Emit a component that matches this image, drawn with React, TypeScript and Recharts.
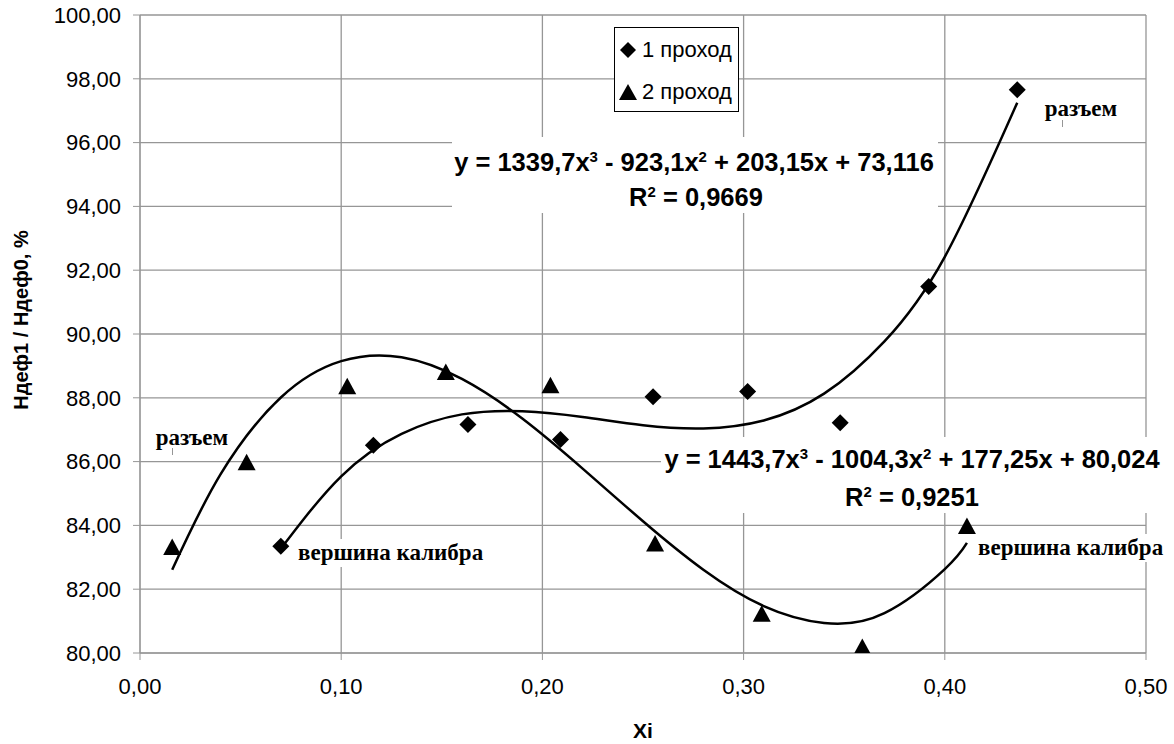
import React from 'react';
import { ComposedChart, XAxis, YAxis, CartesianGrid, Line, Scatter } from 'recharts';

// measured markers
const pass1X = [0.070, 0.116, 0.163, 0.209, 0.255, 0.302, 0.348, 0.392, 0.436];
const pass1Y = [83.35, 86.51, 87.16, 86.69, 88.03, 88.20, 87.22, 91.49, 97.66];
const pass2X = [0.016, 0.053, 0.103, 0.152, 0.204, 0.256, 0.309, 0.359, 0.411];
const pass2Y = [83.32, 85.98, 88.36, 88.81, 88.39, 83.43, 81.23, 80.19, 83.98];

// trend curves
const trend1X = [0.07, 0.10, 0.13, 0.16, 0.19, 0.22, 0.25, 0.28, 0.31, 0.34, 0.37, 0.40, 0.436];
const trend1Y = [83.27, 85.54, 86.87, 87.48, 87.58, 87.40, 87.14, 87.04, 87.29, 88.13, 89.77, 92.42, 97.25];
const trend2X = [0.016, 0.04, 0.07, 0.10, 0.13, 0.16, 0.19, 0.22, 0.25, 0.28, 0.31, 0.34, 0.37, 0.40, 0.411];
const trend2Y = [82.61, 85.60, 88.01, 89.15, 89.27, 88.59, 87.35, 85.78, 84.13, 82.61, 81.47, 80.94, 81.25, 82.63, 83.45];

const xTicks = [0, 0.1, 0.2, 0.3, 0.4, 0.5];
const yTicks = [80, 82, 84, 86, 88, 90, 92, 94, 96, 98, 100];

const seriesNames = ['1 проход', '2 проход'];
const eq1 = ['y = 1339,7x', '3', ' - 923,1x', '2', ' + 203,15x + 73,116'];
const eq2 = ['y = 1443,7x', '3', ' - 1004,3x', '2', ' + 177,25x + 80,024'];
const r2 = ['0,9669', '0,9251'];
const annTop = 'разъем';
const annBottom = 'вершина калибра';

const zip = (xs: number[], ys: number[]) => xs.map((x, i) => ({ x, y: ys[i] }));
const pass1 = zip(pass1X, pass1Y);
const pass2 = zip(pass2X, pass2Y);
const trend1 = zip(trend1X, trend1Y);
const trend2 = zip(trend2X, trend2Y);

const fmt = (v: number) => v.toFixed(2).replace('.', ',');
const GRID = '#969696';
const SANS = '"Liberation Sans", Arial, sans-serif';
const SERIF = '"Liberation Serif", "Times New Roman", serif';

const Diamond = (props: any) => {
  const { cx, cy } = props;
  const h = 8.5;
  return <polygon points={`${cx},${cy - h} ${cx + h},${cy} ${cx},${cy + h} ${cx - h},${cy}`} fill="#000" />;
};
const Triangle = (props: any) => {
  const { cx, cy } = props;
  return <polygon points={`${cx},${cy - 8.5} ${cx + 9},${cy + 8} ${cx - 9},${cy + 8}`} fill="#000" />;
};

const Sup = ({ children }: any) => (
  <sup style={{ fontSize: '15px', lineHeight: 0, verticalAlign: '0.6em' }}>{children}</sup>
);

const Eq = ({ parts }: { parts: string[] }) => (
  <span>
    {parts[0]}
    <Sup>{parts[1]}</Sup>
    {parts[2]}
    <Sup>{parts[3]}</Sup>
    {parts[4]}
  </span>
);

const abs = (left: number, top: number, extra: React.CSSProperties = {}): React.CSSProperties => ({
  position: 'absolute',
  left,
  top,
  whiteSpace: 'nowrap',
  ...extra,
});

const center = (cx: number, cy: number, extra: React.CSSProperties = {}): React.CSSProperties => ({
  position: 'absolute',
  left: cx,
  top: cy,
  transform: 'translate(-50%, -50%)',
  whiteSpace: 'nowrap',
  lineHeight: 1,
  ...extra,
});

export default function App() {
  return (
    <div style={{ position: 'absolute', left: 0, top: 0, width: 1174, height: 744, background: '#fff', fontFamily: SANS }}>
      <ComposedChart width={1174} height={744} margin={{ top: 15, right: 28, left: 0, bottom: 0 }}>
        <CartesianGrid stroke={GRID} strokeWidth={1.3} />
        <XAxis
          type="number"
          dataKey="x"
          domain={[0, 0.5]}
          ticks={xTicks}
          tickFormatter={fmt}
          height={91}
          tickSize={7}
          tickMargin={18}
          stroke={GRID}
          tick={{ fill: '#000', fontSize: 22, fontFamily: SANS }}
          allowDataOverflow
        />
        <YAxis
          type="number"
          dataKey="y"
          domain={[80, 100]}
          ticks={yTicks}
          tickFormatter={fmt}
          width={140}
          tickSize={7}
          tickMargin={12}
          stroke={GRID}
          tick={{ fill: '#000', fontSize: 22, fontFamily: SANS }}
          allowDataOverflow
        />
        <Line data={trend1} dataKey="y" type="natural" stroke="#000" strokeWidth={2.5} dot={false} isAnimationActive={false} />
        <Line data={trend2} dataKey="y" type="natural" stroke="#000" strokeWidth={2.5} dot={false} isAnimationActive={false} />
        <Scatter name={seriesNames[0]} data={pass1} dataKey="y" shape={Diamond} isAnimationActive={false} />
        <Scatter name={seriesNames[1]} data={pass2} dataKey="y" shape={Triangle} isAnimationActive={false} />
      </ComposedChart>

      {/* legend */}
      <div style={abs(614, 27, { width: 125, height: 85, border: '1px solid #000', background: '#fff', boxSizing: 'border-box' })}>
        <svg width={20} height={20} style={{ position: 'absolute', left: 3, top: 12 }}>
          <polygon points="10,2 18,10 10,18 2,10" fill="#000" />
        </svg>
        <div style={{ position: 'absolute', left: 27, top: 11, fontSize: 22, lineHeight: '22px' }}>{seriesNames[0]}</div>
        <svg width={20} height={20} style={{ position: 'absolute', left: 3, top: 54 }}>
          <polygon points="10,2 19,18 1,18" fill="#000" />
        </svg>
        <div style={{ position: 'absolute', left: 27, top: 53, fontSize: 22, lineHeight: '22px' }}>{seriesNames[1]}</div>
      </div>

      {/* equation 1 */}
      <div style={abs(452, 137, { width: 486, height: 76, background: '#fff' })} />
      <div style={center(694, 163, { fontSize: 25.5, fontWeight: 'bold' })}><Eq parts={eq1} /></div>
      <div style={center(696, 198, { fontSize: 25.5, fontWeight: 'bold' })}>R<Sup>2</Sup> = {r2[0]}</div>

      {/* equation 2 */}
      <div style={abs(661, 437, { width: 505, height: 76, background: '#fff' })} />
      <div style={center(912, 460, { fontSize: 25.5, fontWeight: 'bold' })}><Eq parts={eq2} /></div>
      <div style={center(912, 498, { fontSize: 25.5, fontWeight: 'bold' })}>R<Sup>2</Sup> = {r2[1]}</div>

      {/* annotations */}
      <div style={center(192, 437, { fontSize: 23, fontWeight: 'bold', fontFamily: SERIF })}>{annTop}</div>
      <div style={abs(172, 448, { width: 1, height: 7, background: GRID })} />
      <div style={center(1081, 108, { fontSize: 23, fontWeight: 'bold', fontFamily: SERIF })}>{annTop}</div>
      <div style={abs(1062, 120, { width: 1, height: 7, background: GRID })} />
      <div style={abs(296, 539, { height: 28, lineHeight: '28px', padding: '0 2px', fontSize: 23, fontWeight: 'bold', fontFamily: SERIF, background: '#fff' })}>{annBottom}</div>
      <div style={abs(976, 534, { height: 28, lineHeight: '28px', padding: '0 2px', fontSize: 23, fontWeight: 'bold', fontFamily: SERIF, background: '#fff' })}>{annBottom}</div>

      {/* axis titles */}
      <div style={center(643, 730, { fontSize: 21, fontWeight: 'bold' })}>Xi</div>
      <div style={center(21, 320, { fontSize: 20, fontWeight: 'bold', transform: 'translate(-50%, -50%) rotate(-90deg)' })}>Ндеф1 / Ндеф0, %</div>
    </div>
  );
}
